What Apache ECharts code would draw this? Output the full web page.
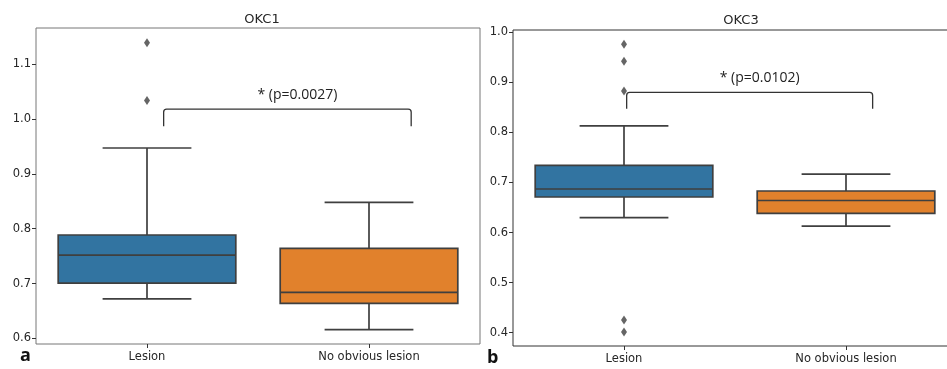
<!DOCTYPE html>
<html>
<head>
<meta charset="utf-8">
<script src="https://cdn.jsdelivr.net/npm/echarts@6/dist/echarts.min.js"></script>
<style>
  html, body { margin: 0; padding: 0; background: #fff; }
  #chart { width: 947px; height: 369px; }
</style>
</head>
<body>
<div id="chart"></div>
<script>
// ---- data ----
const categories = ['Lesion', 'No obvious lesion'];
// [categoryIndex, lowerWhisker, Q1, median, Q3, upperWhisker]
const okc1Box = [
  [0, 0.672, 0.701, 0.752, 0.7885, 0.947],
  [1, 0.616, 0.664, 0.684, 0.764, 0.848]
];
const okc1Outliers = [[0, 1.1387], [0, 1.0336]];
const okc3Box = [
  [0, 0.630, 0.671, 0.687, 0.734, 0.813],
  [1, 0.613, 0.6385, 0.664, 0.683, 0.7166]
];
const okc3Outliers = [[0, 0.976], [0, 0.942], [0, 0.8826], [0, 0.4253], [0, 0.4014]];
const okc1Ticks = [0.6, 0.7, 0.8, 0.9, 1.0, 1.1];
const okc3Ticks = [0.4, 0.5, 0.6, 0.7, 0.8, 0.9, 1.0];
// bracket: [startOffset, endOffset (in category units from first category centre), legValue, topValue]
const okc1Bracket = [[0.075, 1.19, 0.9864, 1.0178]];
const okc3Bracket = [[0.012, 1.12, 0.8475, 0.880]];
const okc1Label = '* (p=0.0027)';
const okc3Label = '* (p=0.0102)';
const okc1LabelValue = 1.0427;
const okc3LabelValue = 0.908;

const boxColors = ['#3274A1', '#E1812C'];
const lineColor = '#3f3f3f';

function renderBox(params, api) {
  const idx = api.value(0);
  const bw = api.size([1, 0])[0] * 0.8;
  const low = api.coord([idx, api.value(1)]);
  const q1 = api.coord([idx, api.value(2)]);
  const med = api.coord([idx, api.value(3)]);
  const q3 = api.coord([idx, api.value(4)]);
  const high = api.coord([idx, api.value(5)]);
  const cx = low[0];
  const lw = 1.7;
  const ls = { stroke: lineColor, lineWidth: lw };
  return {
    type: 'group',
    children: [
      { type: 'line', shape: { x1: cx, y1: low[1], x2: cx, y2: q1[1] }, style: ls },
      { type: 'line', shape: { x1: cx, y1: q3[1], x2: cx, y2: high[1] }, style: ls },
      { type: 'line', shape: { x1: cx - bw / 4, y1: low[1], x2: cx + bw / 4, y2: low[1] }, style: ls },
      { type: 'line', shape: { x1: cx - bw / 4, y1: high[1], x2: cx + bw / 4, y2: high[1] }, style: ls },
      { type: 'rect', shape: { x: cx - bw / 2, y: q3[1], width: bw, height: q1[1] - q3[1] },
        style: { fill: boxColors[idx], stroke: lineColor, lineWidth: lw } },
      { type: 'line', shape: { x1: cx - bw / 2, y1: med[1], x2: cx + bw / 2, y2: med[1] }, style: ls }
    ]
  };
}

function makeBracketRenderer(label, labelValue) {
  return function (params, api) {
    const band = api.size([1, 0])[0];
    const legPt = api.coord([0, api.value(2)]);
    const topPt = api.coord([0, api.value(3)]);
    const labPt = api.coord([0, labelValue]);
    const x1 = legPt[0] + api.value(0) * band;
    const x2 = legPt[0] + api.value(1) * band;
    const yl = legPt[1], yt = topPt[1], r = 3;
    const d = 'M' + x1 + ' ' + yl + ' L' + x1 + ' ' + (yt + r) + ' Q' + x1 + ' ' + yt + ' ' + (x1 + r) + ' ' + yt +
      ' L' + (x2 - r) + ' ' + yt + ' Q' + x2 + ' ' + yt + ' ' + x2 + ' ' + (yt + r) + ' L' + x2 + ' ' + yl;
    return {
      type: 'group',
      children: [
        { type: 'path', shape: { pathData: d }, style: { fill: null, stroke: '#333', lineWidth: 1.3 } },
        { type: 'text', x: (x1 + x2) / 2 + 10, y: labPt[1],
          style: { text: label, textAlign: 'center', textVerticalAlign: 'middle',
                   fontSize: 14, fontFamily: 'Open Sans', fill: '#222' } }
      ]
    };
  };
}

const axisFont = { fontFamily: 'DejaVu Sans', fontSize: 11.5, color: '#262626' };

const chart = echarts.init(document.getElementById('chart'), null, { renderer: 'canvas' });
chart.setOption({
  animation: false,
  backgroundColor: '#fff',
  title: [
    { text: 'OKC1', left: 257, top: 8, textAlign: 'center',
      textStyle: { fontFamily: 'DejaVu Sans', fontSize: 13, fontWeight: 'normal', color: '#262626' } },
    { text: 'OKC3', left: 736, top: 9, textAlign: 'center',
      textStyle: { fontFamily: 'DejaVu Sans', fontSize: 13, fontWeight: 'normal', color: '#262626' } }
  ],
  graphic: [
    { type: 'text', left: 20, top: 347, style: { text: 'a', font: 'bold 18px "Open Sans"', fill: '#111' } },
    { type: 'text', left: 487, top: 349, style: { text: 'b', font: 'bold 18px "Open Sans"', fill: '#111' } }
  ],
  grid: [
    { left: 36, top: 28, width: 444, height: 316, show: true, borderColor: '#777', borderWidth: 1,
      backgroundColor: 'transparent', outerBoundsMode: 'none', containLabel: false },
    { left: 513, top: 30, width: 444, height: 316, show: true, borderColor: '#333', borderWidth: 1,
      backgroundColor: 'transparent', outerBoundsMode: 'none', containLabel: false }
  ],
  xAxis: [0, 1].map(function (g) {
    return {
      type: 'category', gridIndex: g, data: categories,
      axisLine: { show: false },
      axisTick: { show: true, alignWithLabel: true, length: 4, lineStyle: { color: '#333' } },
      axisLabel: Object.assign({ margin: 7 }, axisFont),
      splitLine: { show: false }
    };
  }),
  yAxis: [
    { type: 'value', gridIndex: 0, min: 0.590, max: 1.1655,
      axisLine: { show: false }, splitLine: { show: false },
      axisTick: { show: true, length: 4, customValues: okc1Ticks, lineStyle: { color: '#333' } },
      axisLabel: Object.assign({ margin: 5, customValues: okc1Ticks, formatter: function (v) { return v.toFixed(1); } }, axisFont) },
    { type: 'value', gridIndex: 1, min: 0.3734, max: 1.0046,
      axisLine: { show: false }, splitLine: { show: false },
      axisTick: { show: true, length: 4, customValues: okc3Ticks, lineStyle: { color: '#333' } },
      axisLabel: Object.assign({ margin: 5, customValues: okc3Ticks, formatter: function (v) { return v.toFixed(1); } }, axisFont) }
  ],
  series: [
    { type: 'custom', xAxisIndex: 0, yAxisIndex: 0, renderItem: renderBox, data: okc1Box,
      encode: { x: 0, y: [1, 2, 3, 4, 5] } },
    { type: 'custom', xAxisIndex: 1, yAxisIndex: 1, renderItem: renderBox, data: okc3Box,
      encode: { x: 0, y: [1, 2, 3, 4, 5] } },
    { type: 'scatter', xAxisIndex: 0, yAxisIndex: 0, data: okc1Outliers, symbol: 'diamond',
      symbolSize: [6, 9], itemStyle: { color: lineColor } },
    { type: 'scatter', xAxisIndex: 1, yAxisIndex: 1, data: okc3Outliers, symbol: 'diamond',
      symbolSize: [6, 9], itemStyle: { color: lineColor } },
    { type: 'custom', xAxisIndex: 0, yAxisIndex: 0, renderItem: makeBracketRenderer(okc1Label, okc1LabelValue),
      data: okc1Bracket, encode: { x: [0, 1], y: [2, 3] } },
    { type: 'custom', xAxisIndex: 1, yAxisIndex: 1, renderItem: makeBracketRenderer(okc3Label, okc3LabelValue),
      data: okc3Bracket, encode: { x: [0, 1], y: [2, 3] } }
  ]
});
</script>
</body>
</html>
